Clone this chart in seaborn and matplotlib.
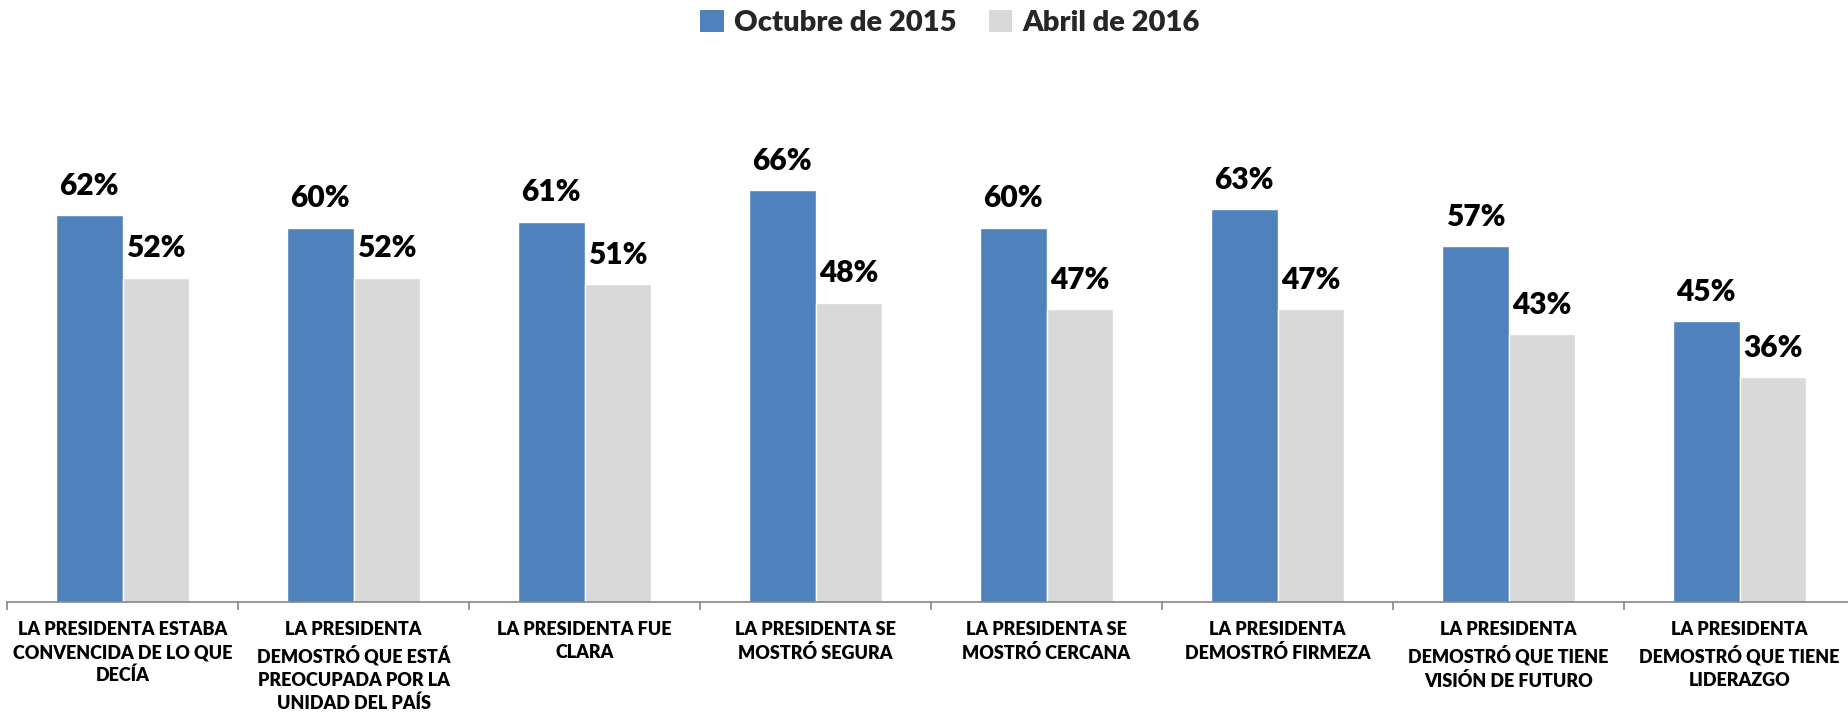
import matplotlib
matplotlib.use("Agg")
import matplotlib.pyplot as plt
from matplotlib.patches import Patch
import seaborn as sns
import pandas as pd
import numpy as np

categories = [
    "LA PRESIDENTA ESTABA\nCONVENCIDA DE LO QUE\nDECÍA",
    "LA PRESIDENTA\nDEMOSTRÓ QUE ESTÁ\nPREOCUPADA POR LA\nUNIDAD DEL PAÍS",
    "LA PRESIDENTA FUE\nCLARA",
    "LA PRESIDENTA SE\nMOSTRÓ SEGURA",
    "LA PRESIDENTA SE\nMOSTRÓ CERCANA",
    "LA PRESIDENTA\nDEMOSTRÓ FIRMEZA",
    "LA PRESIDENTA\nDEMOSTRÓ QUE TIENE\nVISIÓN DE FUTURO",
    "LA PRESIDENTA\nDEMOSTRÓ QUE TIENE\nLIDERAZGO",
]
series_names = ["Octubre de 2015", "Abril de 2016"]
octubre_2015 = [62, 60, 61, 66, 60, 63, 57, 45]
abril_2016 = [52, 52, 51, 48, 47, 47, 43, 36]
colors = ["#4F81BD", "#D9D9D9"]

df = pd.DataFrame({
    "cat": categories * 2,
    "serie": [series_names[0]] * len(categories) + [series_names[1]] * len(categories),
    "val": octubre_2015 + abril_2016,
})

sns.set_theme(style="white")
plt.rcParams["font.family"] = ["Lato", "DejaVu Sans"]

fig = plt.figure(figsize=(18.48, 7.15), dpi=100)
ax = fig.add_axes([7 / 1848, 1 - 602 / 715, (1855 - 7) / 1848, (602 - 103) / 715])

sns.barplot(data=df, x="cat", y="val", hue="serie", palette=colors,
            width=0.575, gap=0, saturation=1, legend=False, ax=ax, errorbar=None)

for cont in ax.containers:
    texts = ax.bar_label(cont, labels=[f"{v:.0f}%" for v in cont.datavalues],
                         padding=11, fontsize=21.5, color="black")
    for t in texts:
        t.set_fontweight("heavy")

ax.set_ylim(0, 80)
ax.set_xlim(-0.5, len(categories) - 0.5)
ax.set_xlabel("")
ax.set_ylabel("")
ax.set_yticks([])
for s in ["top", "right", "left"]:
    ax.spines[s].set_visible(False)
ax.spines["bottom"].set_color("#868686")
ax.spines["bottom"].set_linewidth(1.2)

ax.set_xticks(range(len(categories)))
ax.set_xticklabels(categories, fontsize=13, linespacing=1.4, va="top", ha="center")
for lbl in ax.get_xticklabels():
    lbl.set_fontweight("heavy")
    lbl.set_color("black")
ax.tick_params(axis="x", which="major", length=0, pad=14)
ax.set_xticks(np.arange(-0.5, len(categories), 1.0), minor=True)
ax.tick_params(axis="x", which="minor", length=6, width=1.2, color="#868686",
               direction="out", bottom=True)

handles = [Patch(facecolor=c, edgecolor="none") for c in colors]
leg = fig.legend(handles, series_names, loc="center", bbox_to_anchor=(0.514, 0.968),
                 ncol=2, frameon=False, prop={"size": 21, "weight": "heavy"},
                 handlelength=0.8, handleheight=0.8, handletextpad=0.35, columnspacing=1.1)
for t in leg.get_texts():
    t.set_fontweight("heavy")

fig.savefig("out.png", dpi=100)
